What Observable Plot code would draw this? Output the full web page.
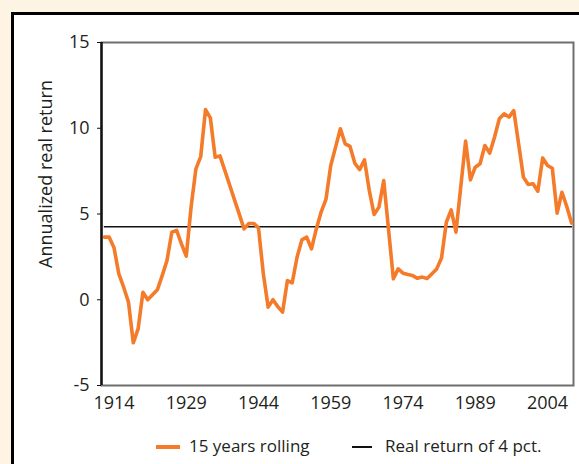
<!DOCTYPE html>
<html><head><meta charset="utf-8">
<script src="https://cdn.jsdelivr.net/npm/d3@7"></script>
<script src="https://cdn.jsdelivr.net/npm/@observablehq/plot@0.6"></script>
<style>
html,body{margin:0;padding:0;}
body{width:579px;height:464px;background:#FDF4E3;position:relative;overflow:hidden;font-family:"Open Sans",sans-serif;color:#231f20;}
#panel{position:absolute;left:11px;top:12px;width:620px;height:520px;background:#fff;border-left:3px solid #000;border-top:3px solid #000;}
#chart{position:absolute;left:0;top:0;}
#legend{position:absolute;left:0;top:0;width:579px;height:464px;pointer-events:none;}
.sw{position:absolute;display:block;}
.tx{position:absolute;font-size:17px;line-height:20px;white-space:nowrap;}
</style>
</head><body>
<div id="panel"></div>
<div id="chart"></div>
<div id="legend"></div>
<script>
const years = d3.range(1912, 2010);
const returns = [
  3.65, 3.65, 3.03, 1.51, 0.73, -0.14, -2.51, -1.70, 0.44, 0.00,
  0.29, 0.58, 1.41, 2.29, 3.94, 4.04, 3.26, 2.54, 5.40, 7.63,
  8.35, 11.09, 10.61, 8.31, 8.39, 7.54, 6.69, 5.84, 4.99, 4.13,
  4.45, 4.45, 4.19, 1.51, -0.43, 0.00, -0.40, -0.72, 1.12, 0.99,
  2.48, 3.49, 3.65, 2.97, 4.13, 5.11, 5.85, 7.83, 8.90, 9.97,
  9.09, 8.94, 7.96, 7.59, 8.16, 6.37, 4.97, 5.40, 6.95, 4.09,
  1.22, 1.80, 1.55, 1.47, 1.41, 1.25, 1.32, 1.24, 1.51, 1.80,
  2.44, 4.52, 5.24, 3.94, 6.60, 9.25, 6.99, 7.73, 7.93, 8.99,
  8.55, 9.48, 10.55, 10.84, 10.65, 11.03, 9.09, 7.15, 6.72, 6.76,
  6.33, 8.27, 7.83, 7.67, 5.05, 6.27, 5.44, 4.47
];
const benchmark = 4.25;
const xTicks = [1914, 1929, 1944, 1959, 1974, 1989, 2004];
const yTicks = [-5, 0, 5, 10, 15];
const seriesNames = ["15 years rolling", "Real return of 4 pct."];
const seriesColors = ["#F47B2A", "#111111"];
const yTitle = "Annualized real return";

const data = years.map((y, i) => ({year: y, value: returns[i]}));
const xDomain = [1911.4, 2009.4];

const chart = Plot.plot({
  width: 579, height: 425,
  marginLeft: 101, marginRight: 6, marginTop: 42, marginBottom: 40,
  style: {background: "transparent", fontFamily: "Open Sans, sans-serif", fontSize: "18px", color: "#231f20"},
  x: {domain: xDomain},
  y: {domain: [-5, 15]},
  marks: [
    Plot.frame({stroke: "#6e6e6e", strokeWidth: 2}),
    Plot.lineY(data, {x: "year", y: () => benchmark, stroke: seriesColors[1], strokeWidth: 1.5}),
    Plot.lineY(data, {x: "year", y: "value", stroke: seriesColors[0], strokeWidth: 3.6, strokeLinejoin: "round"}),
    Plot.ruleX([xDomain[0]], {stroke: "#111", strokeWidth: 2.4}),
    Plot.axisX({ticks: xTicks, tickFormat: d => String(d), tickSize: 0, tickPadding: 11, label: null, fontSize: 18}),
    Plot.axisY({ticks: yTicks, tickFormat: d => String(d), tickSize: 4, tickPadding: 8, label: null, fontSize: 18, stroke: "#111"}),
    Plot.text([yTitle], {frameAnchor: "left", textAnchor: "middle", dx: -55, dy: -40, rotate: -90, fontSize: 18, fill: "#231f20"})
  ]
});
document.getElementById("chart").appendChild(chart);

const legend = document.getElementById("legend");
const items = [
  {sw: 156, swW: 24, swH: 4, tx: 189},
  {sw: 352, swW: 20, swH: 1.5, tx: 385}
];
const ly = 447;
items.forEach((it, i) => {
  const s = document.createElement("span");
  s.className = "sw";
  s.style.left = it.sw + "px"; s.style.width = it.swW + "px"; s.style.height = it.swH + "px";
  s.style.top = (ly - it.swH / 2) + "px"; s.style.background = seriesColors[i];
  legend.appendChild(s);
  const t = document.createElement("span");
  t.className = "tx"; t.textContent = seriesNames[i];
  t.style.left = it.tx + "px"; t.style.top = (ly - 11) + "px";
  legend.appendChild(t);
});
</script>
</body></html>
